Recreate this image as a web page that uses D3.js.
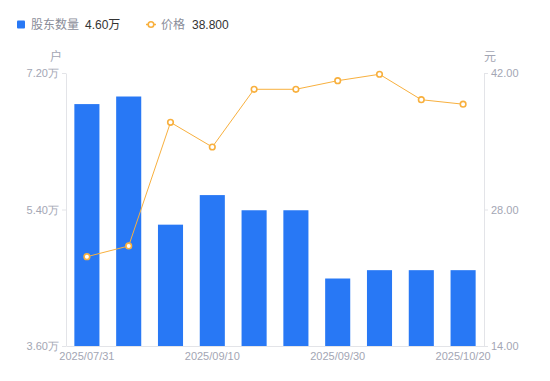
<!DOCTYPE html>
<html>
<head>
<meta charset="utf-8">
<script src="https://cdn.jsdelivr.net/npm/d3@7"></script>
<style>
    body { margin: 0; background: #fff; }
    svg { display: block; font-family: "Liberation Sans", "Noto Sans CJK SC", sans-serif; }
</style>
</head>
<body>
<svg id="chart"></svg>
<script>
const dates = ['2025/07/31', '2025/08/10', '2025/08/20', '2025/09/10', '2025/09/15',
    '2025/09/19', '2025/09/30', '2025/10/10', '2025/10/15', '2025/10/20'];
const holders = [6.79, 6.89, 5.20, 5.59, 5.39, 5.39, 4.49, 4.60, 4.60, 4.60]; // 万户
const prices = [23.16, 24.26, 36.94, 34.41, 40.33, 40.33, 41.21, 41.87, 39.26, 38.80];
const leftTicks = [3.6, 5.4, 7.2];
const rightTicks = [14, 28, 42];
const xLabelIdx = [0, 3, 6, 9];

const width = 550, height = 381;
const margin = { left: 66, right: 66, top: 73, bottom: 35 };
const blue = '#2878f5', orange = '#f8b03e';
const axisColor = '#e3e4e8', tickColor = '#a3a6b4';

const svg = d3.select('#chart').attr('width', width).attr('height', height);

const x = d3.scaleBand()
    .domain(d3.range(dates.length))
    .range([margin.left, width - margin.right])
    .paddingInner(0.4)
    .paddingOuter(0.2);
const yL = d3.scaleLinear().domain([3.6, 7.2]).range([height - margin.bottom, margin.top]);
const yR = d3.scaleLinear().domain([14, 42]).range([height - margin.bottom, margin.top]);

// bars
svg.append('g').selectAll('rect')
    .data(holders)
    .join('rect')
    .attr('x', (d, i) => x(i))
    .attr('y', d => yL(d))
    .attr('width', x.bandwidth())
    .attr('height', d => yL(3.6) - yL(d))
    .attr('fill', blue);

// axes
function styleAxis(g) {
    g.select('.domain').attr('stroke', axisColor);
    g.selectAll('.tick line').attr('stroke', axisColor);
    g.selectAll('.tick text').attr('fill', tickColor).attr('font-size', 11);
}

svg.append('g')
    .attr('transform', `translate(${margin.left},0)`)
    .call(d3.axisLeft(yL).tickValues(leftTicks).tickSize(4).tickSizeOuter(0)
        .tickFormat(d => d.toFixed(2) + '万'))
    .call(styleAxis);

svg.append('g')
    .attr('transform', `translate(${width - margin.right},0)`)
    .call(d3.axisRight(yR).tickValues(rightTicks).tickSize(4).tickSizeOuter(0)
        .tickFormat(d => d.toFixed(2)))
    .call(styleAxis);

svg.append('g')
    .attr('transform', `translate(0,${height - margin.bottom})`)
    .call(d3.axisBottom(x).tickValues(xLabelIdx).tickSize(0).tickPadding(6)
        .tickFormat(i => dates[i]))
    .call(styleAxis);

// unit labels
svg.append('text').attr('x', margin.left - 4).attr('y', 61)
    .attr('text-anchor', 'end').attr('font-size', 12).attr('fill', tickColor).text('户');
svg.append('text').attr('x', width - margin.right).attr('y', 61)
    .attr('font-size', 12).attr('fill', tickColor).text('元');

// price line
const cx = i => x(i) + x.bandwidth() / 2;
svg.append('path')
    .datum(prices)
    .attr('fill', 'none')
    .attr('stroke', orange)
    .attr('stroke-width', 1)
    .attr('d', d3.line().x((d, i) => cx(i)).y(d => yR(d)));

svg.append('g').selectAll('circle')
    .data(prices)
    .join('circle')
    .attr('cx', (d, i) => cx(i))
    .attr('cy', d => yR(d))
    .attr('r', 2.8)
    .attr('fill', '#fff')
    .attr('stroke', orange)
    .attr('stroke-width', 1.6);

// legend
const legend = svg.append('g').attr('font-size', 12);
legend.append('rect').attr('x', 17).attr('y', 20.5).attr('width', 8).attr('height', 8)
    .attr('rx', 1).attr('fill', blue);
legend.append('text').attr('x', 31).attr('y', 29).attr('fill', '#8a8d99').text('股东数量');
legend.append('text').attr('x', 85).attr('y', 29).attr('fill', '#333').text(holders[holders.length - 1].toFixed(2) + '万');

legend.append('line').attr('x1', 146).attr('x2', 156).attr('y1', 24.5).attr('y2', 24.5)
    .attr('stroke', orange).attr('stroke-width', 1.5);
legend.append('circle').attr('cx', 151).attr('cy', 24.5).attr('r', 2.8)
    .attr('fill', '#fff').attr('stroke', orange).attr('stroke-width', 1.6);
legend.append('text').attr('x', 161).attr('y', 29).attr('fill', '#8a8d99').text('价格');
legend.append('text').attr('x', 192).attr('y', 29).attr('fill', '#333').text(prices[prices.length - 1].toFixed(3));
</script>
</body>
</html>
